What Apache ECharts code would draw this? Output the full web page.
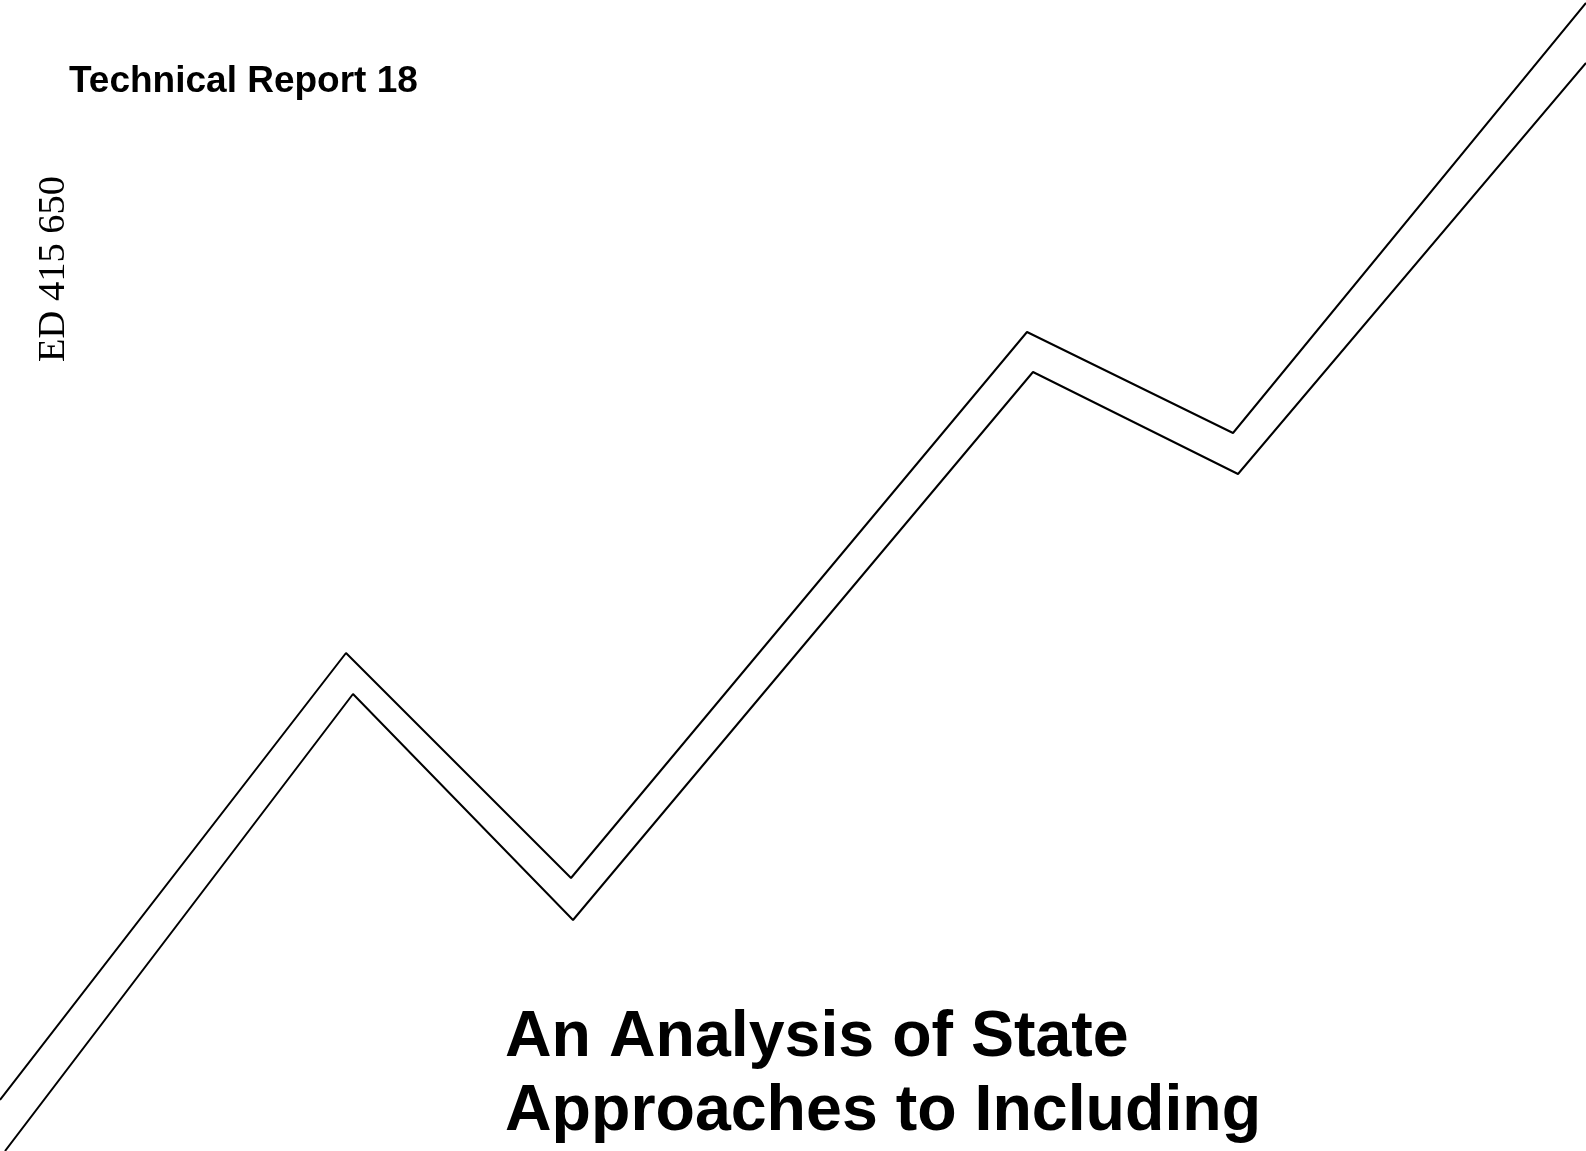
<!DOCTYPE html>
<html>
<head>
<meta charset="utf-8">
<script src="https://cdn.jsdelivr.net/npm/echarts@6/dist/echarts.min.js"></script>
<style>
html,body{margin:0;padding:0;background:#fff;}
#chart{width:1586px;height:1151px;}
</style>
</head>
<body>
<div id="chart"></div>
<script>
// Zigzag band: upper and lower edges (x across page, y down page)
var upperX = [0, 346, 571, 1027, 1233, 1586];
var upperY = [1100, 653, 878, 332, 433, 3];
var lowerX = [5, 353, 573, 1033, 1238, 1586];
var lowerY = [1151, 694, 920, 372, 474, 63];

var reportLabel = 'Technical Report 18';
var sideCode = 'ED 415 650';
var titleLines = ['An Analysis of State', 'Approaches to Including'];

function pairs(xs, ys) {
  return xs.map(function (x, i) { return [x, ys[i]]; });
}

var chart = echarts.init(document.getElementById('chart'), null, {renderer: 'canvas'});
chart.setOption({
  backgroundColor: '#ffffff',
  animation: false,
  grid: {left: 0, right: 0, top: 0, bottom: 0},
  xAxis: {type: 'value', min: 0, max: 1586, show: false},
  yAxis: {type: 'value', min: 0, max: 1151, inverse: true, show: false},
  series: [
    {type: 'line', data: pairs(upperX, upperY), symbol: 'none',
     lineStyle: {color: '#000', width: 2}},
    {type: 'line', data: pairs(lowerX, lowerY), symbol: 'none',
     lineStyle: {color: '#000', width: 2}}
  ],
  graphic: [
    {type: 'text', left: 69, top: 63,
     style: {text: reportLabel, font: 'bold 37px "Liberation Sans", Arial, sans-serif', fill: '#000'}},
    {type: 'text', x: 54, y: 362, rotation: Math.PI / 2,
     style: {text: sideCode, font: '38.5px "Liberation Serif", "Times New Roman", serif', fill: '#000',
             align: 'left', verticalAlign: 'middle'}},
    {type: 'text', left: 505, top: 1006,
     style: {text: titleLines[0], font: 'bold 64.5px "Liberation Sans", Arial, sans-serif', fill: '#000'}},
    {type: 'text', left: 505, top: 1080,
     style: {text: titleLines[1], font: 'bold 64.5px "Liberation Sans", Arial, sans-serif', fill: '#000'}}
  ]
});
</script>
</body>
</html>
